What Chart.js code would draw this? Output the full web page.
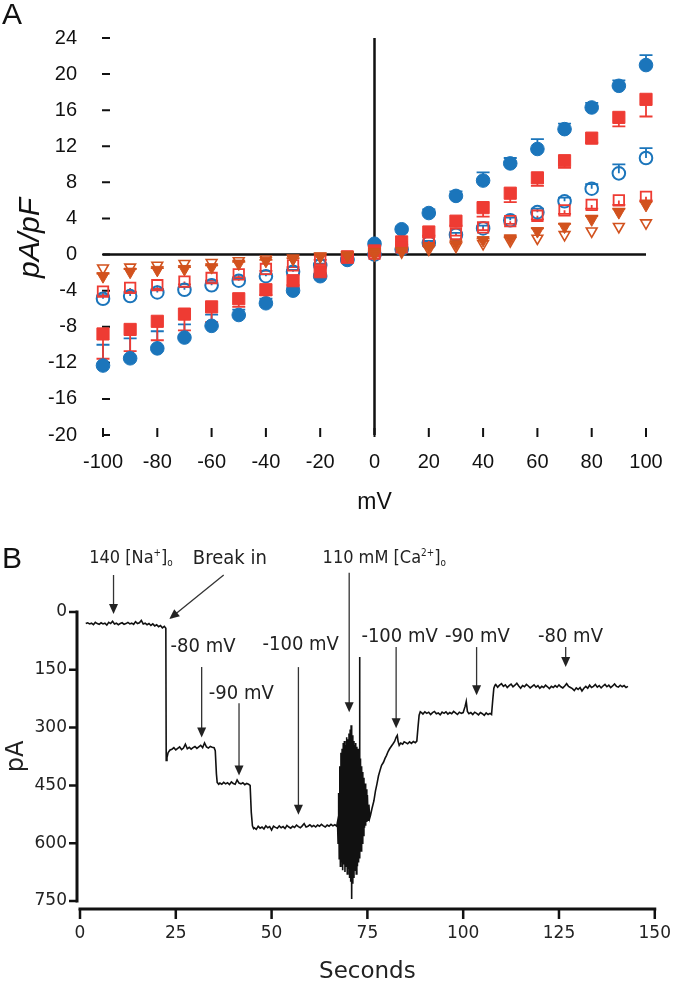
<!DOCTYPE html>
<html>
<head>
<meta charset="utf-8">
<script src="https://cdn.jsdelivr.net/npm/chart.js@4.4.1/dist/chart.umd.min.js"></script>
<style>
body{margin:0;background:#fff;width:693px;height:984px;position:relative;overflow:hidden}
#boxA{position:absolute;left:0;top:0;width:693px;height:540px}
#boxB{position:absolute;left:0;top:540px;width:693px;height:444px}
.panel{position:absolute;left:2px;font-size:30px;line-height:30px;font-family:"Liberation Sans",Arial,sans-serif;color:#111}
</style>
</head>
<body>
<div id="boxA"><canvas id="ivChart" width="693" height="540"></canvas></div>
<div id="boxB"><canvas id="traceChart" width="693" height="444"></canvas></div>
<div class="panel" style="top:-1px">A</div>
<div class="panel" style="top:543px">B</div>
<script>
// ---------- panel A : current density vs voltage ----------
const mV=[-100,-90,-80,-70,-60,-50,-40,-30,-20,-10,0,10,20,30,40,50,60,70,80,90,100]

const blueFilled=[-12.3,-11.5,-10.4,-9.2,-7.9,-6.7,-5.4,-4.0,-2.4,-0.6,1.2,2.8,4.6,6.5,8.2,10.1,11.7,13.9,16.3,18.7,21.0]
const blueFilledErr=[2.3,2.2,1.9,1.45,1.25,0.6,0.5,0.4,0.3,0.2,0.2,0.3,0.4,0.5,0.9,0.6,1.1,0.6,0.5,0.6,1.1]

const blueOpen=[-4.9,-4.6,-4.2,-3.9,-3.4,-2.9,-2.4,-1.9,-1.2,-0.5,0.0,0.6,1.3,2.2,2.9,3.8,4.7,5.9,7.3,9.0,10.7]
const blueOpenErr=[0.4,0.4,0.3,0.3,0.3,0.3,0.2,0.2,0.2,0.1,0.1,0.1,0.2,0.2,0.3,0.3,0.4,0.4,0.5,1.0,1.1]

const redFilled=[-8.8,-8.3,-7.4,-6.6,-5.8,-4.9,-3.9,-2.9,-1.9,-0.3,0.4,1.4,2.5,3.7,5.2,6.8,8.5,10.4,12.9,15.2,17.2]
const redFilledErr=[2.75,2.4,2.1,1.8,1.7,0.9,0.6,0.5,0.3,0.2,0.2,0.3,0.4,0.5,1.0,1.0,0.9,0.8,0.5,1.0,1.9]

const redOpen=[-4.1,-3.7,-3.4,-3.0,-2.6,-2.2,-1.6,-1.2,-0.5,-0.2,0.1,0.8,1.5,2.3,3.0,3.7,4.3,4.9,5.5,6.0,6.4]
const redOpenErr=[0.5,0.4,0.4,0.3,0.3,0.3,0.2,0.2,0.1,0.1,0.1,0.1,0.2,0.2,0.3,0.3,0.4,0.4,0.4,0.5,0.5]

const triFilled=[-2.4,-1.9,-1.7,-1.6,-1.4,-1.0,-0.7,-0.5,-0.2,-0.1,0.3,0.4,0.9,1.2,1.6,1.8,2.6,3.1,3.9,4.7,5.5]
const triFilledErr=[0.3,0.3,0.2,0.2,0.2,0.2,0.1,0.1,0.1,0.1,0.1,0.1,0.1,0.2,0.2,0.2,0.3,0.3,0.4,0.4,0.5]

const triOpen=[-1.5,-1.4,-1.2,-1.0,-0.9,-0.7,-0.5,-0.4,-0.2,-0.1,0.0,0.3,0.6,0.9,1.2,1.5,1.8,2.2,2.6,3.1,3.5]

const xTicksA=[-100,-80,-60,-40,-20,0,20,40,60,80,100]
const yTicksA=[-20,-16,-12,-8,-4,0,4,8,12,16,20,24]

// ---------- panel B : whole-cell current trace ----------
const traceSec=[
1.5,2,2.5,3,3.5,4,4.5,5,5.5,6,6.5,7,7.5,8,8.5,9,9.5,10,10.5,11,11.5,12,12.5,13,13.5,14,14.5,15,15.5,16,16.5,17,17.5,18,18.5,19,19.5,20,20.5,21,21.5,22,22.4,
22.5,22.7,23,23.5,24,24.5,25,25.5,26,26.5,27,27.5,28,28.5,29,29.5,30,30.5,31,31.5,32,32.5,33,33.5,34,34.5,35,35.3,35.6,35.8,36.2,
36.5,37,37.5,38,38.5,39,39.5,40,40.5,41,41.5,42,42.5,43,43.5,44,44.4,44.7,45,45.3,
45.5,46,46.5,47,47.5,48,48.5,49,49.5,50,50.5,51,51.5,52,52.5,53,53.5,54,54.5,55,55.5,56,56.5,57,57.5,58,58.5,59,59.5,60,60.5,61,61.5,62,62.5,63,63.5,64,64.5,65,65.5,66,66.5,67,
67.2,67.35,67.5,67.65,67.8,67.95,68.1,68.25,68.4,68.55,68.7,68.85,69.0,69.15,69.3,69.45,69.6,69.75,69.9,70.05,70.2,70.35,70.5,70.65,70.75,70.9,71.05,71.2,71.35,71.5,71.65,71.8,71.95,72.1,72.25,72.4,72.55,72.7,72.85,72.95,73.05,73.2,73.35,73.5,73.65,73.8,73.95,74.1,74.25,74.4,74.55,74.7,74.85,75.0,75.2,75.4,75.6,75.8,
76.2,76.7,77.1,77.5,77.9,78.3,78.7,79.2,79.6,80,80.4,80.8,81.2,81.7,82.1,82.5,82.8,83.0,83.3,83.7,84.2,84.6,85,85.5,86,86.5,87,87.5,87.9,88.2,88.5,88.8,89.2,
89.5,90,90.5,91,91.5,92,92.5,93,93.5,94,94.5,95,95.5,96,96.5,97,97.5,98,98.5,99,99.5,100,100.5,100.8,101.1,101.5,102,102.5,103,103.5,104,104.5,105,105.5,106,106.5,107,107.4,107.7,108.0,108.3,
108.5,109,109.5,110,110.5,111,111.5,112,112.5,113,113.5,114,114.5,115,115.5,116,116.5,117,117.5,118,118.5,119,119.5,120,120.5,121,121.5,122,122.5,123,123.5,124,124.5,125,125.5,126,126.5,127,127.5,128,128.5,129,129.5,130,130.5,131,131.5,132,132.5,133,133.5,134,134.5,135,135.5,136,136.5,137,137.5,138,138.5,139,139.5,140,140.5,141,141.5,142,142.5,143]
const tracePA=[
30,28,31,29,33,27,30,32,28,31,29,34,27,30,24,31,29,33,30,28,32,30,27,31,29,32,25,30,28,22,31,29,33,30,35,31,36,33,38,35,41,37,42,
385,378,365,358,356,352,358,354,350,357,353,343,355,351,356,352,349,354,350,346,352,340,350,353,349,351,352,360,420,442,447,
444,447,442,446,443,448,441,445,447,436,444,446,443,448,445,447,450,520,555,562,
560,564,556,561,558,563,555,560,557,566,556,559,561,555,560,557,562,554,558,561,556,559,553,557,560,555,549,558,556,552,557,554,558,553,556,551,555,558,553,556,551,555,552,556,
545,600,470,640,400,660,365,650,355,670,340,655,335,675,345,660,325,680,330,665,315,690,305,700,294,745,320,705,335,690,345,670,340,680,350,660,355,650,365,117,640,380,620,400,600,415,580,430,560,445,555,460,545,475,540,500,535,528,
510,490,465,446,425,411,398,390,380,372,362,355,349,342,336,325,320,335,346,340,343,337,339,342,337,341,336,339,335,300,268,259,262,
265,259,263,260,266,261,258,264,262,267,260,263,259,265,261,264,258,262,266,260,263,261,245,232,258,264,261,266,260,263,267,261,264,268,262,266,263,266,230,198,190,
188,195,190,186,193,189,196,191,187,194,190,185,192,198,191,194,188,192,197,193,189,195,191,198,193,196,190,194,199,193,196,191,195,189,194,197,192,186,193,196,199,204,197,201,196,205,198,193,198,190,196,193,188,195,191,197,192,188,194,190,196,192,187,193,195,190,194,191,196,193]

const xTicksB=[0,25,50,75,100,125,150]
const yTicksB=[0,150,300,450,600,750]

// annotation labels with arrows (positions in seconds / pA)
const noteText=['140 [Na^{+}]_{o}','Break in','-80 mV','-90 mV','-100 mV','110 mM [Ca^{2+}]_{o}','-100 mV','-90 mV','-80 mV']
const noteSec=[13.3,39.1,32.1,42.1,57.6,79.4,83.4,103.7,128]
const notePA=[-143,-143,86,208,80,-143,60,60,60]
const arrowFromSec=[8.75,37.5,31.75,41.5,57,70.25,82.5,103.5,126.75]
const arrowFromPA=[-96,-96,143,237,143,-102,91,91,91]
const arrowToSec=[8.75,23.3,31.75,41.5,57,70.25,82.5,103.5,126.75]
const arrowToPA=[5,18,326,424,526,260,302,216,143]

const BLUE='#1b75bb'
const RED='#ee3b33'
const ORANGE='#d2521e'
const ARIAL='"Liberation Sans", Arial, sans-serif'
const GOTHIC='"DejaVu Sans", sans-serif'
const NARROW='"DejaVu Sans Condensed", "Liberation Sans Narrow", "DejaVu Sans", sans-serif'

function pts(vals){
return mV.map((v,i)=>({x:v,y:vals[i]}))
}

// error bars + axes through origin + inward ticks
const ivDecor={
id:'ivDecor',
beforeDatasetsDraw(chart){
const {ctx,scales:{x,y}}=chart
ctx.save()
ctx.strokeStyle='#111'
ctx.lineWidth=2.5
ctx.beginPath()
ctx.moveTo(x.getPixelForValue(-100),y.getPixelForValue(0))
ctx.lineTo(x.getPixelForValue(100),y.getPixelForValue(0))
ctx.moveTo(x.getPixelForValue(0),y.getPixelForValue(24))
ctx.lineTo(x.getPixelForValue(0),y.getPixelForValue(-20))
ctx.stroke()

let l=x.getPixelForValue(-100)
let b=y.getPixelForValue(-20)
ctx.lineWidth=2
ctx.beginPath()
yTicksA.forEach(v=>{let p=y.getPixelForValue(v);ctx.moveTo(l-1,p);ctx.lineTo(l+7,p)})
xTicksA.forEach(v=>{let p=x.getPixelForValue(v);ctx.moveTo(p,b+2);ctx.lineTo(p,b-7)})
ctx.stroke()

chart.data.datasets.forEach(ds=>{
if(!ds.errors) return
ctx.strokeStyle=ds.borderColor
ctx.lineWidth=1.8
ctx.beginPath()
ds.data.forEach((d,i)=>{
let px=x.getPixelForValue(d.x)
let p1=y.getPixelForValue(d.y)
let p2=y.getPixelForValue(d.y+ds.errDir*ds.errors[i])
ctx.moveTo(px,p1);ctx.lineTo(px,p2)
ctx.moveTo(px-6.5,p2);ctx.lineTo(px+6.5,p2)
})
ctx.stroke()
})
ctx.restore()
},
afterDraw(chart){
const ctx=chart.ctx
ctx.save()
ctx.translate(31,238)
ctx.rotate(-Math.PI/2)
ctx.fillStyle='#111'
ctx.font='italic 30px '+ARIAL
ctx.textAlign='center'
ctx.textBaseline='middle'
ctx.fillText('pA/pF',0,0)
ctx.restore()
}
}

new Chart(document.getElementById('ivChart'),{
type:'scatter',
data:{datasets:[
{data:pts(blueFilled),errors:blueFilledErr,errDir:1,order:6,pointStyle:'circle',pointRadius:6.8,backgroundColor:BLUE,borderColor:BLUE,borderWidth:1},
{data:pts(blueOpen),errors:blueOpenErr,errDir:1,order:5,pointStyle:'circle',pointRadius:6.3,backgroundColor:'rgba(255,255,255,0)',borderColor:BLUE,borderWidth:2},
{data:pts(redFilled),errors:redFilledErr,errDir:-1,order:4,pointStyle:'rect',pointRadius:8.6,backgroundColor:RED,borderColor:RED,borderWidth:1},
{data:pts(redOpen),errors:redOpenErr,errDir:-1,order:3,pointStyle:'rect',pointRadius:7.4,backgroundColor:'rgba(255,255,255,0)',borderColor:RED,borderWidth:1.8},
{data:pts(triFilled),errors:triFilledErr,errDir:1,order:2,pointStyle:'triangle',rotation:180,pointRadius:7,backgroundColor:ORANGE,borderColor:ORANGE,borderWidth:1},
{data:pts(triOpen),order:1,pointStyle:'triangle',rotation:180,pointRadius:6.2,backgroundColor:'rgba(255,255,255,0)',borderColor:ORANGE,borderWidth:1.6}
].map(d=>Object.assign(d,{clip:false,pointHoverRadius:d.pointRadius,pointRotation:d.rotation||0}))},
options:{
responsive:false,
animation:false,
layout:{padding:{left:0,right:47,top:13,bottom:0}},
plugins:{legend:{display:false},tooltip:{enabled:false}},
scales:{
x:{type:'linear',min:-100,max:100,
afterFit(s){s.height=105},
afterBuildTicks(s){s.ticks=xTicksA.map(v=>({value:v}))},
grid:{display:false,drawTicks:false},border:{display:false},
ticks:{padding:15,color:'#111',font:{family:ARIAL,size:20}},
title:{display:true,text:'mV',color:'#111',font:{family:ARIAL,size:23},padding:{top:0,bottom:24}}},
y:{type:'linear',min:-20,max:24,
afterFit(s){s.width=103},
afterBuildTicks(s){s.ticks=yTicksA.map(v=>({value:v}))},
grid:{display:false,drawTicks:false},border:{display:false},
ticks:{padding:26,color:'#111',font:{family:ARIAL,size:20}}}
}
},
plugins:[ivDecor]
})

// text with ^{sup} and _{sub} parts, centred on cx,cy
function drawRich(ctx,text,cx,cy,size,family){
let parts=[]
text.split(/(\^\{[^}]*\}|_\{[^}]*\})/).forEach(p=>{
if(!p) return
if(p.startsWith('^{')) parts.push({t:p.slice(2,-1),k:'sup'})
else if(p.startsWith('_{')) parts.push({t:p.slice(2,-1),k:'sub'})
else parts.push({t:p,k:''})
})
let w=0
parts.forEach(p=>{ctx.font=(p.k?size*0.55:size)+'px '+family;p.w=ctx.measureText(p.t).width;w+=p.w})
let x=cx-w/2
let base=cy+size*0.36
ctx.textAlign='left'
ctx.textBaseline='alphabetic'
parts.forEach(p=>{
ctx.font=(p.k?size*0.55:size)+'px '+family
let yy=base
if(p.k==='sup') yy=base-size*0.42
if(p.k==='sub') yy=base+size*0.12
ctx.fillText(p.t,x,yy)
x+=p.w
})
}

// offset axes, ticks and arrows
const traceDecor={
id:'traceDecor',
afterDraw(chart){
const {ctx,scales:{x,y}}=chart
ctx.save()
ctx.strokeStyle='#111'
ctx.lineWidth=3
let ax=x.getPixelForValue(0)-3
let ay=y.getPixelForValue(750)+8
ctx.beginPath()
ctx.moveTo(ax,y.getPixelForValue(0)-1.5)
ctx.lineTo(ax,y.getPixelForValue(750)+1.5)
ctx.moveTo(x.getPixelForValue(0)-1.5,ay)
ctx.lineTo(x.getPixelForValue(150)+1.5,ay)
ctx.stroke()
ctx.lineWidth=2.5
ctx.beginPath()
yTicksB.forEach(v=>{let p=y.getPixelForValue(v);ctx.moveTo(ax,p);ctx.lineTo(ax-8,p)})
xTicksB.forEach(v=>{let p=x.getPixelForValue(v);ctx.moveTo(p,ay);ctx.lineTo(p,ay+10)})
ctx.stroke()

ctx.fillStyle='#222'
ctx.strokeStyle='#333'
ctx.lineWidth=1.3
noteText.forEach((t,i)=>{
drawRich(ctx,t,x.getPixelForValue(noteSec[i]),y.getPixelForValue(notePA[i]),i==0||i==5?18:20,NARROW)
let x1=x.getPixelForValue(arrowFromSec[i]),y1=y.getPixelForValue(arrowFromPA[i])
let x2=x.getPixelForValue(arrowToSec[i]),y2=y.getPixelForValue(arrowToPA[i])
let a=Math.atan2(y2-y1,x2-x1)
ctx.beginPath()
ctx.moveTo(x1,y1)
ctx.lineTo(x2-Math.cos(a)*8,y2-Math.sin(a)*8)
ctx.stroke()
ctx.beginPath()
ctx.moveTo(x2,y2)
ctx.lineTo(x2-Math.cos(a)*10+Math.sin(a)*4.5,y2-Math.sin(a)*10-Math.cos(a)*4.5)
ctx.lineTo(x2-Math.cos(a)*10-Math.sin(a)*4.5,y2-Math.sin(a)*10+Math.cos(a)*4.5)
ctx.closePath()
ctx.fill()
})
ctx.restore()
}
}

new Chart(document.getElementById('traceChart'),{
type:'line',
data:{datasets:[{
data:traceSec.map((t,i)=>({x:t,y:tracePA[i]})),
borderColor:'#111',borderWidth:1.6,pointRadius:0,tension:0,fill:false
}]},
options:{
responsive:false,
animation:false,
layout:{padding:{left:0,right:14,top:72,bottom:0}},
plugins:{legend:{display:false},tooltip:{enabled:false}},
scales:{
x:{type:'linear',min:0,max:150,
afterFit(s){s.height=83},
afterBuildTicks(s){s.ticks=xTicksB.map(v=>({value:v}))},
grid:{display:false,drawTicks:false},border:{display:false},
ticks:{padding:22,color:'#222',font:{family:GOTHIC,size:17}},
title:{display:true,text:'Seconds',color:'#222',font:{family:GOTHIC,size:23,lineHeight:1},padding:{top:0,bottom:0}}},
y:{type:'linear',min:0,max:750,reverse:true,
afterFit(s){s.width=80},
afterBuildTicks(s){s.ticks=yTicksB.map(v=>({value:v}))},
grid:{display:false,drawTicks:false},border:{display:false},
ticks:{padding:13,color:'#222',font:{family:GOTHIC,size:17}},
title:{display:true,text:'pA',color:'#222',font:{family:GOTHIC,size:24,lineHeight:1},padding:{top:5,bottom:0}}}
}
},
plugins:[traceDecor]
})
</script>
</body>
</html>
